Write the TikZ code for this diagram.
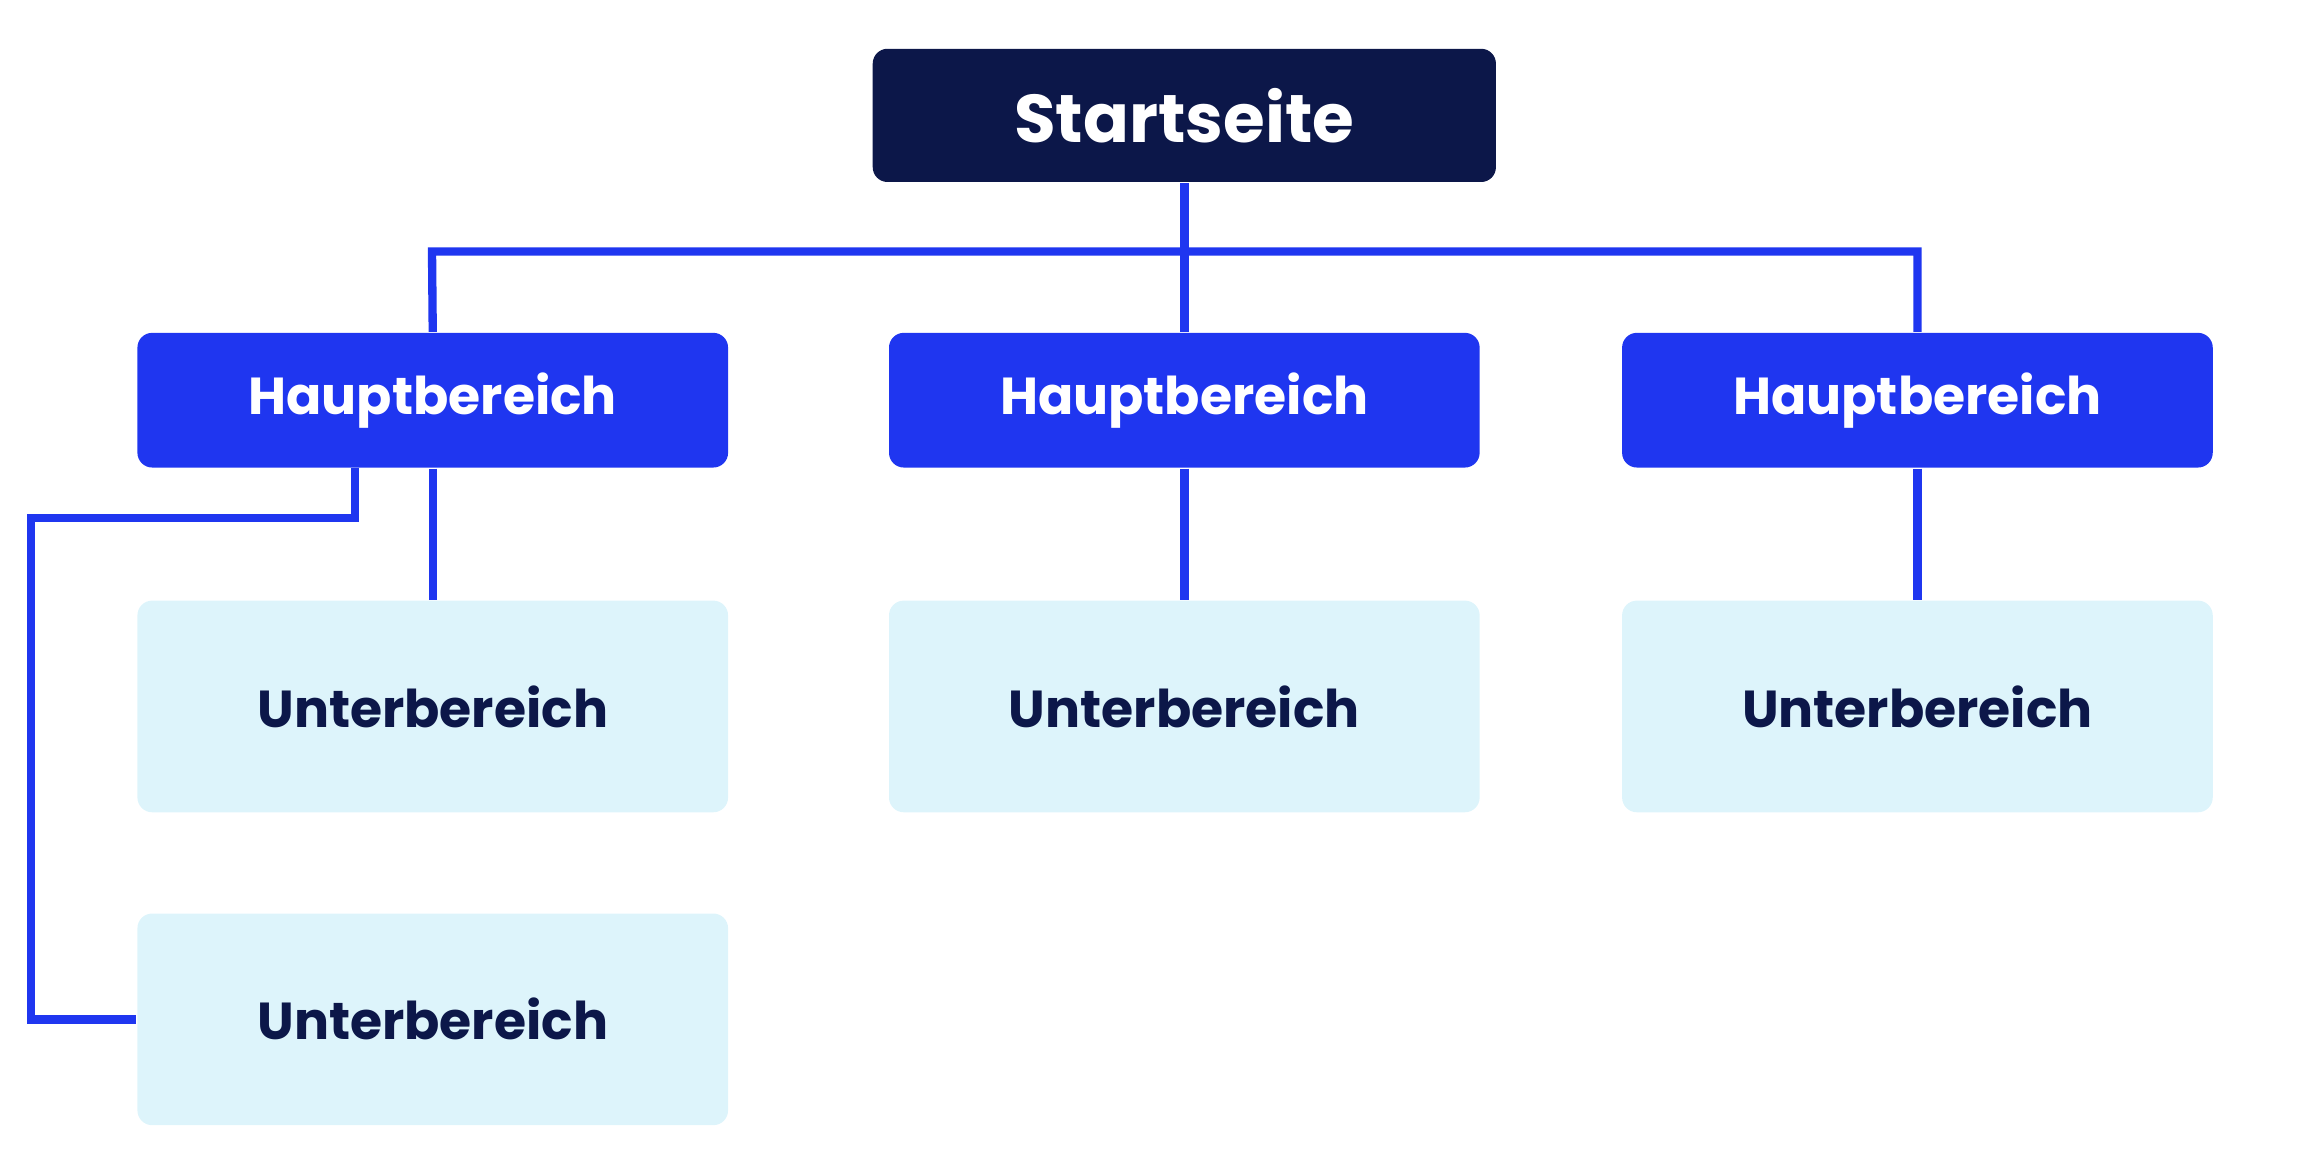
\documentclass[tikz,border=0pt]{standalone}
\usepackage{fontspec}
\setmainfont{Poppins}
\definecolor{navy}{HTML}{0C1749}
\definecolor{mblue}{HTML}{1F36F0}
\definecolor{lblue}{HTML}{DDF4FB}
\begin{document}
\begin{tikzpicture}[x=0.01cm,y=-0.01cm,
  box/.style={rounded corners=0.1cm,inner sep=0pt,font=\bfseries},
  top/.style={box,fill=navy,text=white,minimum width=4.21cm,minimum height=0.9cm,font=\bfseries\fontsize{13}{15}\selectfont},
  main/.style={box,fill=mblue,text=white,minimum width=3.99cm,minimum height=0.91cm,font=\bfseries\fontsize{10}{12}\selectfont},
  sub/.style={box,fill=lblue,text=navy,minimum width=3.99cm,minimum height=1.43cm,font=\bfseries\fontsize{10}{12}\selectfont},
  conn/.style={draw=mblue,line width=1.6pt}]
\useasboundingbox (0,0) rectangle (1560,783);
\node[top] (s) at (800.5,78) {Startseite};
\node[main] (h1) at (292.5,270.5) {Hauptbereich};
\node[main] (h2) at (800.5,270.5) {Hauptbereich};
\node[main] (h3) at (1296,270.5) {Hauptbereich};
\node[sub] (u1) at (292.5,477.5) {Unterbereich};
\node[sub] (u2) at (800.5,477.5) {Unterbereich};
\node[sub] (u3) at (1296,477.5) {Unterbereich};
\node[sub] (u4) at (292.5,689) {Unterbereich};
\coordinate (hl) at (292,170);
\coordinate (hr) at (1296,170);
\draw[conn] (s.south) -- (h2.north);
\draw[conn] (h1.north) -- (hl) -- (hr) -- (h3.north);
\draw[conn] (h1) -- (u1);
\draw[conn] (h2) -- (u2);
\draw[conn] (h3) -- (u3);
\coordinate (e) at (240,316);
\draw[conn] (e) -- (240,350) -- (21,350) -- (21,689) -- (u4.west);
\end{tikzpicture}
\end{document}
